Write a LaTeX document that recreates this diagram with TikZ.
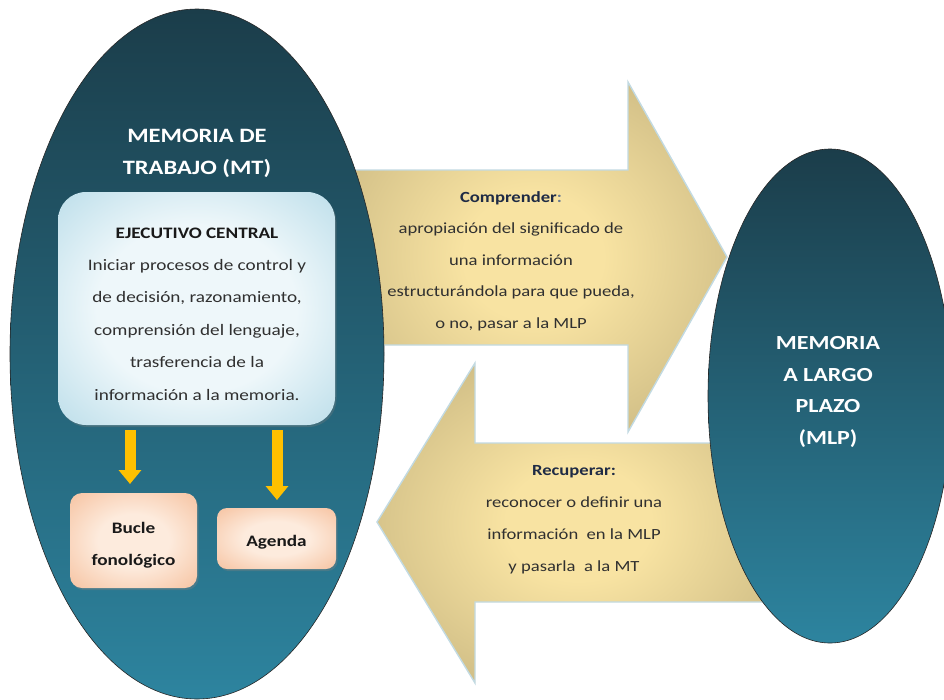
\documentclass[tikz,border=0pt]{standalone}
\usepackage{fontspec}
\newfontfamily\cf[FakeStretch=1.2]{Carlito}
\usetikzlibrary{shapes.geometric,arrows.meta,shadows}
\definecolor{ellTop}{HTML}{1B3D4A}
\definecolor{ellBot}{HTML}{2D849F}
\definecolor{goldIn}{HTML}{F8E3A2}
\definecolor{goldMid}{HTML}{CDBB84}
\definecolor{goldOut}{HTML}{A09067}
\definecolor{glowBlue}{HTML}{C2DAE2}
\definecolor{ecIn}{HTML}{EEF7FA}
\definecolor{ecOut}{HTML}{9ACDDF}
\definecolor{peIn}{HTML}{FDEBDD}
\definecolor{peOut}{HTML}{F3B085}
\definecolor{yarr}{HTML}{FFC000}
\definecolor{navy}{HTML}{1F2B45}
\definecolor{colonc}{HTML}{6A7A90}
\definecolor{bodyc}{HTML}{303030}
\pgfdeclareradialshading{goldrad}{\pgfpoint{0bp}{0bp}}{color(0bp)=(goldIn); color(9bp)=(goldIn); color(30bp)=(goldMid); color(46bp)=(goldOut); color(50bp)=(goldOut)}
\pgfdeclareradialshading{ecrad}{\pgfpoint{0bp}{0bp}}{color(0bp)=(ecIn); color(18bp)=(ecIn); color(48bp)=(ecOut); color(50bp)=(ecOut)}
\pgfdeclareradialshading{perad}{\pgfpoint{0bp}{0bp}}{color(0bp)=(peIn); color(14bp)=(peIn); color(46bp)=(peOut); color(50bp)=(peOut)}
\begin{document}
\begin{tikzpicture}[x=1pt,y=-1pt,
  memell/.style={ellipse, draw=black!85, line width=0.6pt, top color=ellTop, bottom color=ellBot, inner sep=0pt},
  goldarrow/.style={draw=glowBlue, line width=1.4pt, shading=goldrad, line join=miter},
  ecbox/.style={rounded corners=28pt, shading=ecrad, minimum width=277pt, minimum height=233pt, inner sep=0pt,
     drop shadow={shadow xshift=1.5pt, shadow yshift=-2pt, opacity=0.3}},
  peachbox/.style={rounded corners=12pt, shading=perad, inner sep=0pt,
     drop shadow={shadow xshift=1.5pt, shadow yshift=-2pt, opacity=0.35}},
  yarrow/.style={draw=yarr, line width=11pt, -{Triangle[width=22pt,length=14pt]}},
  titletxt/.style={text=white, align=center, font=\cf\bfseries\fontsize{20.4}{32}\selectfont},
  ectxt/.style={text=bodyc, align=center, font=\cf\fontsize{16}{32.4}\selectfont},
  boxtxt/.style={text=black!90, align=center, font=\cf\bfseries\fontsize{16}{32}\selectfont},
  arrtxt/.style={text=bodyc, align=center, font=\cf\fontsize{15.5}{31.5}\selectfont}
]
\useasboundingbox (0,0) rectangle (944,699);
\fill[white] (0,0) rectangle (944,699);
% gold arrows
\path[goldarrow] (340,170) -- (628,170) -- (628,82) -- (727,257) -- (628,432) -- (628,345) -- (340,345) -- cycle;
\path[goldarrow] (377,522) -- (475,363) -- (475,443) -- (780,443) -- (780,602) -- (475,602) -- (475,683) -- cycle;
% ellipses
\node[memell, minimum width=374pt, minimum height=690pt] (mt) at (197,354) {};
\node[memell, minimum width=244pt, minimum height=494pt] (mlp) at (830,396) {};
\node[titletxt] (mttitle) at (197,153) {MEMORIA DE\\TRABAJO (MT)};
\node[titletxt, font=\cf\bfseries\fontsize{20}{31.5}\selectfont] (mlptitle) at (828,392) {MEMORIA\\A LARGO\\PLAZO\\(MLP)};
% ejecutivo central
\node[ecbox] (ec) at (196.5,308.5) {};
\node[ectxt] (ectext) at (197,314) {{\bfseries\color{black!90}EJECUTIVO CENTRAL}\\Iniciar procesos de control y\\de decisión, razonamiento,\\comprensión del lenguaje,\\trasferencia de la\\información a la memoria.};
% sub boxes
\node[peachbox, minimum width=127pt, minimum height=95pt] (bucle) at (133.5,540.5) {};
\node[boxtxt] (bucletext) at (133.5,545) {Bucle\\fonológico};
\node[peachbox, minimum width=119pt, minimum height=61pt, rounded corners=10pt] (agenda) at (276.5,538.5) {};
\node[boxtxt, anchor=base] (agendatext) at (276.5,546) {Agenda};
% yellow arrows
\draw[yarrow, shorten <=5pt, shorten >=9pt] (130,425) -- (130,493);
\draw[yarrow, shorten <=5pt, shorten >=8pt] (277,425) -- (277,508);
% arrow texts
\node[arrtxt] (comp) at (511,261) {{\bfseries\color{navy}Comprender}{\bfseries\color{colonc}:}\\apropiación del significado de\\una información\\estructurándola para que pueda,\\o no, pasar a la MLP};
\node[arrtxt, font=\cf\fontsize{15.5}{32}\selectfont] (recu) at (574,520) {{\bfseries\color{navy}Recuperar:}\\reconocer o definir una\\información~ en la MLP\\y pasarla~ a la MT};
\end{tikzpicture}
\end{document}
